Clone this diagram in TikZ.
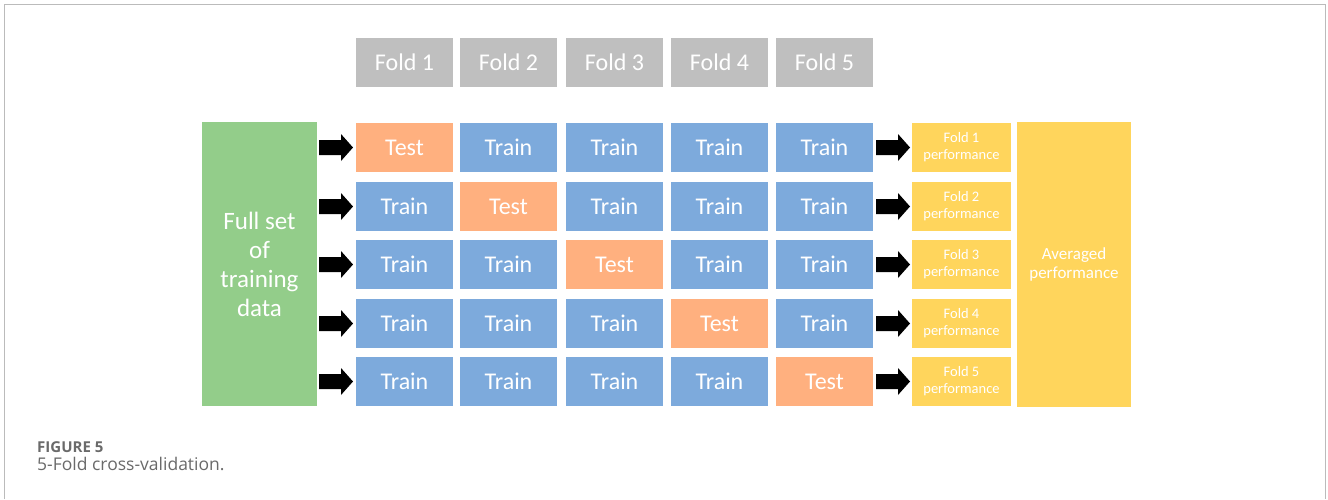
\documentclass[tikz,border=0pt]{standalone}
\usepackage{fontspec}
\setmainfont{Carlito}
\newfontfamily\capfont{Open Sans}
\usetikzlibrary{positioning}
\definecolor{cgray}{HTML}{BFBFBF}
\definecolor{corange}{HTML}{FFB07F}
\definecolor{cblue}{HTML}{7DAADC}
\definecolor{cgreen}{HTML}{93CD8A}
\definecolor{cyellow}{HTML}{FFD55C}
\definecolor{cframe}{HTML}{BBBBBB}
\definecolor{ccap}{HTML}{6A6A6A}
\tikzset{
  cell/.style={fill=#1, minimum width=97pt, minimum height=49pt, inner sep=0pt, text=white, font=\fontsize{24}{26}\selectfont},
  perf/.style={fill=cyellow, minimum width=99pt, minimum height=49pt, inner sep=0pt, text=white, align=center, font=\fontsize{14.5}{17}\selectfont},
  bigarrow/.style={fill=black},
}
\begin{document}
\begin{tikzpicture}[x=1pt,y=-1pt]
\useasboundingbox (0,0) rectangle (1328,499);
\fill[white] (0,0) rectangle (1328,499);
\draw[cframe, line width=1.2pt] (4.5,499) -- (4.5,4.5) -- (1325.5,4.5) -- (1325.5,499);
% headers
\foreach \i/\x in {1/404.5,2/508.5,3/614.5,4/719.5,5/824.5}{
  \node[cell=cgray] (h\i) at (\x,62) {Fold \i};
}
% green
\node[fill=cgreen, minimum width=115pt, minimum height=284pt, inner sep=0pt, text=white, align=center, font=\fontsize{25}{29}\selectfont] (full) at (259.5,264) {Full set\\of\\training\\data};
% averaged
\node[fill=cyellow, minimum width=114pt, minimum height=285pt, inner sep=0pt, text=white, align=center, font=\fontsize{17}{19}\selectfont] (avg) at (1074,264.5) {Averaged\\performance};
% rows
\foreach \r/\y in {1/147.5,2/206.5,3/264.5,4/323.5,5/381.5}{
  \foreach \c/\x in {1/404.5,2/508.5,3/614.5,4/719.5,5/824.5}{
    \ifnum\r=\c
      \node[cell=corange] (c\r\c) at (\x,\y) {Test};
    \else
      \node[cell=cblue] (c\r\c) at (\x,\y) {Train};
    \fi
  }
  \node[perf] (p\r) at (961.5,\y) {Fold \r\\performance};
  \coordinate (la\r) at (319,\y);
  \coordinate (ra\r) at (876,\y);
  \fill[bigarrow] (la\r) ++(0,-7.5) -- ++(22,0) -- ++(0,-6) -- ++(12,13.5) -- ++(-12,13.5) -- ++(0,-6) -- ++(-22,0) -- cycle;
  \fill[bigarrow] (ra\r) ++(0,-7.5) -- ++(22,0) -- ++(0,-6) -- ++(12,13.5) -- ++(-12,13.5) -- ++(0,-6) -- ++(-22,0) -- cycle;
}
% caption
\node[anchor=base west, inner sep=0pt, text=ccap, font=\capfont\bfseries\fontsize{15}{16}\selectfont] (fig) at (37,452.5) {FIGURE 5};
\node[anchor=base west, inner sep=0pt, text=ccap, font=\capfont\fontsize{17.5}{19}\selectfont] (capt) at (37,470.7) {5-Fold cross-validation.};
\end{tikzpicture}
\end{document}
